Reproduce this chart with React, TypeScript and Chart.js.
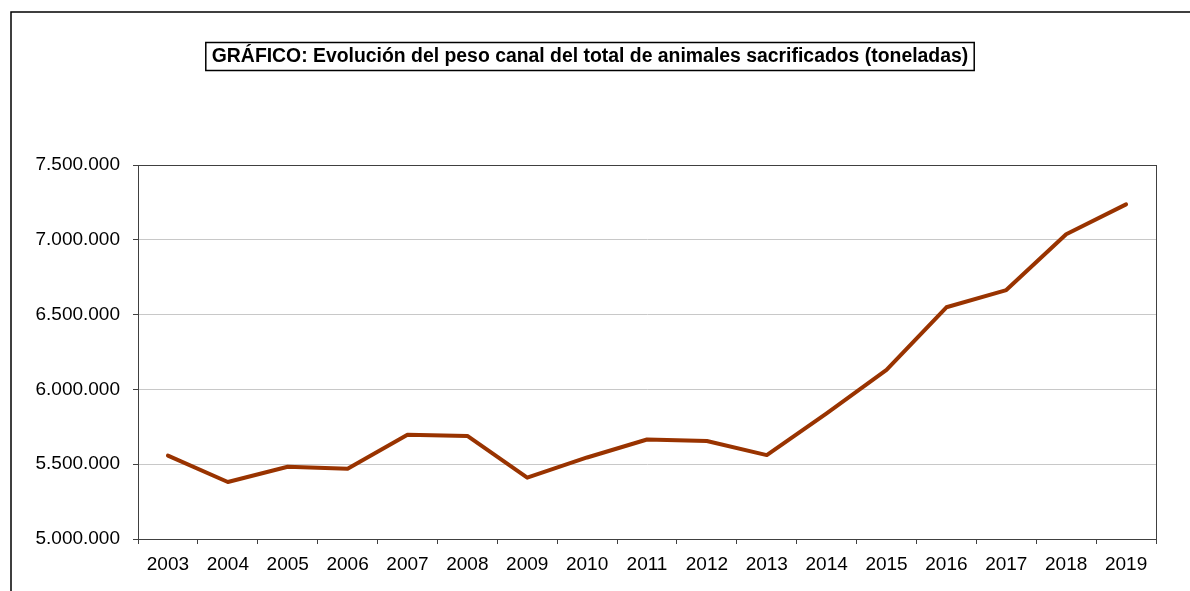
import React, { useEffect, useRef } from "react";
import { Chart, registerables } from "chart.js";

Chart.register(...registerables);

const years: string[] = [
  "2003", "2004", "2005", "2006", "2007", "2008", "2009", "2010", "2011",
  "2012", "2013", "2014", "2015", "2016", "2017", "2018", "2019",
];

const pesoCanal: number[] = [
  5557000, 5381000, 5483000, 5470000, 5697000, 5689000, 5410000, 5545000, 5665000,
  5655000, 5561000, 5840000, 6130000, 6549000, 6664000, 7037000, 7237000,
];

const yMin = 5000000;
const yMax = 7500000;
const yStep = 500000;

const titleText = "GRÁFICO: Evolución del peso canal del total de animales sacrificados (toneladas)";

const FONT = "'Liberation Sans', Arial, sans-serif";

function fmt(v: number): string {
  return Math.round(v).toString().replace(/\B(?=(\d{3})+(?!\d))/g, ".");
}

const framePlugin = {
  id: "frame",
  beforeDraw(chart: any) {
    const ctx = chart.ctx;
    ctx.save();
    ctx.fillStyle = "#ffffff";
    ctx.fillRect(0, 0, chart.width, chart.height);
    ctx.strokeStyle = "#000000";
    ctx.lineWidth = 1.5;
    ctx.strokeRect(11, 12, chart.width + 20, chart.height + 20);
    ctx.restore();
  },
  afterDraw(chart: any) {
    const ctx = chart.ctx;
    const a = chart.chartArea;
    ctx.save();
    ctx.strokeStyle = "#404040";
    ctx.lineWidth = 1;
    ctx.strokeRect(Math.round(a.left) + 0.5, Math.round(a.top) + 0.5, Math.round(a.right - a.left), Math.round(a.bottom - a.top));
    ctx.font = "bold 19.4px " + FONT;
    ctx.fillStyle = "#000000";
    ctx.textAlign = "center";
    ctx.textBaseline = "middle";
    const cx = 590;
    const cy = 57;
    const w = ctx.measureText(titleText).width;
    ctx.fillText(titleText, cx, cy);
    ctx.lineWidth = 1.5;
    ctx.strokeStyle = "#000000";
    ctx.strokeRect(cx - w / 2 - 6, 42.5, w + 12, 28);
    ctx.restore();
  },
};

export default function App() {
  const ref = useRef<HTMLCanvasElement | null>(null);

  useEffect(() => {
    if (!ref.current) return;
    const chart = new Chart(ref.current, {
      type: "line",
      data: {
        labels: years,
        datasets: [
          {
            label: "Peso canal (toneladas)",
            data: pesoCanal,
            borderColor: "#993300",
            backgroundColor: "#993300",
            borderWidth: 4,
            pointRadius: 0,
            tension: 0,
            borderCapStyle: "round",
            borderJoinStyle: "round",
          },
        ],
      },
      options: {
        animation: false,
        responsive: false,
        maintainAspectRatio: false,
        layout: { padding: { left: 0, right: 34, top: 165, bottom: 0 } },
        plugins: {
          legend: { display: false },
          title: { display: false },
          tooltip: { enabled: false },
        },
        scales: {
          x: {
            offset: true,
            grid: {
              offset: true,
              drawOnChartArea: false,
              tickLength: 5,
              color: "#404040",
              tickColor: "#404040",
            },
            border: { color: "#404040", width: 1 },
            ticks: {
              color: "#000000",
              font: { family: FONT, size: 19 },
              padding: 9,
              maxRotation: 0,
              autoSkip: false,
            },
            afterFit(scale: any) {
              scale.height = 52;
            },
          },
          y: {
            min: yMin,
            max: yMax,
            grid: {
              color: "#c8c8c8",
              tickColor: "#404040",
              tickLength: 5,
            },
            border: { color: "#404040", width: 1 },
            ticks: {
              stepSize: yStep,
              color: "#000000",
              font: { family: FONT, size: 19 },
              padding: 13,
              callback: (v: any) => fmt(Number(v)),
            },
            afterFit(scale: any) {
              scale.width = 138;
            },
          },
        },
      },
      plugins: [framePlugin],
    });
    return () => chart.destroy();
  }, []);

  return (
    <div style={{ position: "fixed", left: 0, top: 0, width: 1190, height: 591, background: "#fff" }}>
      <canvas ref={ref} width={1190} height={591} style={{ display: "block" }} />
    </div>
  );
}
